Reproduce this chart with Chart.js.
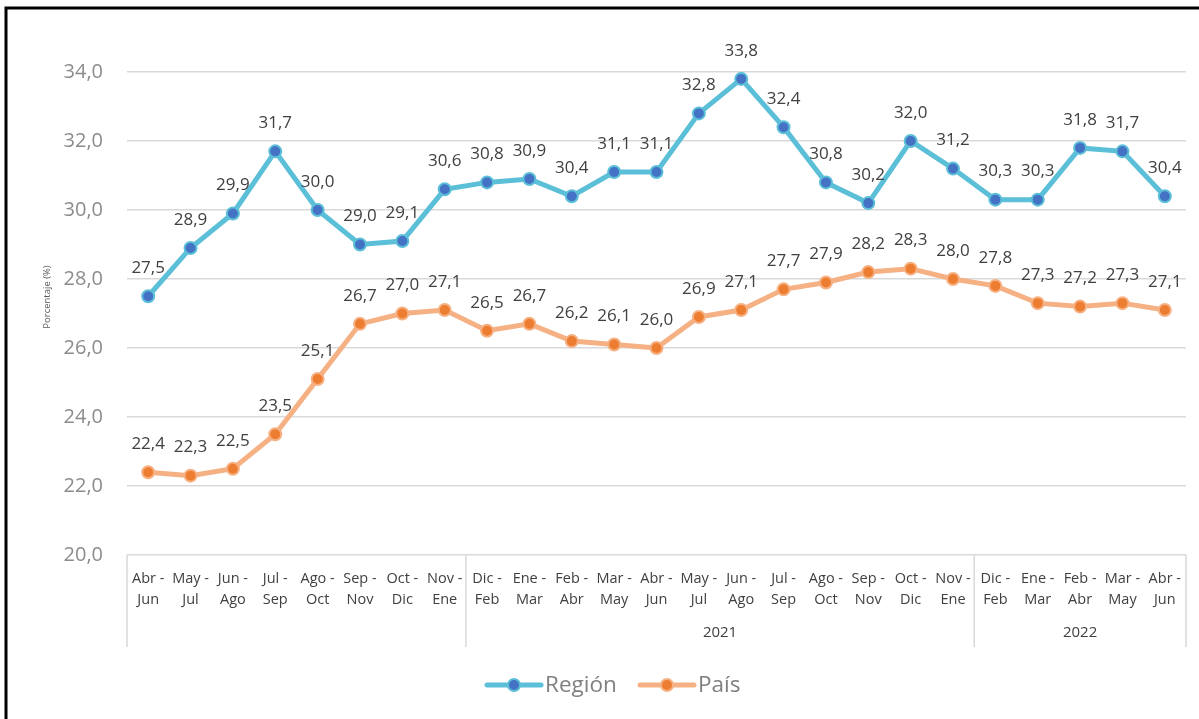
<!DOCTYPE html>
<html lang="es">
<head>
<meta charset="UTF-8">
<title>Región vs País</title>
<script src="https://cdn.jsdelivr.net/npm/chart.js"></script>
<style>
    html, body { margin: 0; padding: 0; background: #fff; overflow: hidden; }
    #grafico { display: block; }
</style>
</head>
<body>
<canvas id="grafico" width="1199" height="719"></canvas>
<script>
    // datos
    const periodos = [
        ['Abr -', 'Jun'], ['May -', 'Jul'], ['Jun -', 'Ago'], ['Jul -', 'Sep'], ['Ago -', 'Oct'],
        ['Sep -', 'Nov'], ['Oct -', 'Dic'], ['Nov -', 'Ene'], ['Dic -', 'Feb'], ['Ene -', 'Mar'],
        ['Feb -', 'Abr'], ['Mar -', 'May'], ['Abr -', 'Jun'], ['May -', 'Jul'], ['Jun -', 'Ago'],
        ['Jul -', 'Sep'], ['Ago -', 'Oct'], ['Sep -', 'Nov'], ['Oct -', 'Dic'], ['Nov -', 'Ene'],
        ['Dic -', 'Feb'], ['Ene -', 'Mar'], ['Feb -', 'Abr'], ['Mar -', 'May'], ['Abr -', 'Jun']
    ];
    const region = [27.5, 28.9, 29.9, 31.7, 30.0, 29.0, 29.1, 30.6, 30.8, 30.9, 30.4, 31.1, 31.1,
        32.8, 33.8, 32.4, 30.8, 30.2, 32.0, 31.2, 30.3, 30.3, 31.8, 31.7, 30.4];
    const pais = [22.4, 22.3, 22.5, 23.5, 25.1, 26.7, 27.0, 27.1, 26.5, 26.7, 26.2, 26.1, 26.0,
        26.9, 27.1, 27.7, 27.9, 28.2, 28.3, 28.0, 27.8, 27.3, 27.2, 27.3, 27.1];
    // grupos de años: [primer índice, último índice, etiqueta]
    const anios = [[0, 7, ''], [8, 19, '2021'], [20, 24, '2022']];

    const FUENTE = "'Open Sans', sans-serif";
    const colRegionLinea = '#5bbfd8', colRegionPunto = '#4472c4';
    const colPaisLinea = '#f5b183', colPaisPunto = '#ed7d31';

    function fmt(v) {
        return v.toFixed(1).replace('.', ',');
    }

    const extras = {
        id: 'extras',
        afterDraw(chart) {
            const ctx = chart.ctx;
            const x = chart.scales.x;
            const area = chart.chartArea;
            const paso = (x.getPixelForValue(1) - x.getPixelForValue(0));
            ctx.save();

            // líneas de grupo y años
            ctx.strokeStyle = '#d9d9d9';
            ctx.lineWidth = 1.5;
            const bordes = [x.getPixelForValue(0) - paso / 2];
            anios.forEach(g => bordes.push(x.getPixelForValue(g[1]) + paso / 2));
            bordes.forEach(px => {
                ctx.beginPath();
                ctx.moveTo(px, area.bottom);
                ctx.lineTo(px, area.bottom + 92);
                ctx.stroke();
            });
            ctx.fillStyle = '#404040';
            ctx.font = '15px ' + FUENTE;
            ctx.textAlign = 'center';
            ctx.textBaseline = 'middle';
            anios.forEach(g => {
                const cx = (x.getPixelForValue(g[0]) + x.getPixelForValue(g[1])) / 2;
                ctx.fillText(g[2], cx, area.bottom + 78);
            });

            // etiquetas de datos
            ctx.fillStyle = '#404040';
            ctx.font = '17px ' + FUENTE;
            chart.data.datasets.forEach((ds, i) => {
                const meta = chart.getDatasetMeta(i);
                meta.data.forEach((p, j) => {
                    ctx.fillText(fmt(ds.data[j]), p.x, p.y - 28);
                });
            });

            // título eje Y
            ctx.save();
            ctx.translate(47, 297);
            ctx.rotate(-Math.PI / 2);
            ctx.fillStyle = '#595959';
            ctx.font = '9.5px ' + FUENTE;
            ctx.fillText('Porcentaje (%)', 0, 0);
            ctx.restore();

            // leyenda
            const items = [
                { t: 'Región', l: colRegionLinea, p: colRegionPunto, x0: 487 },
                { t: 'País', l: colPaisLinea, p: colPaisPunto, x0: 640 }
            ];
            const ly = 685;
            items.forEach(it => {
                ctx.strokeStyle = it.l;
                ctx.lineWidth = 5;
                ctx.lineCap = 'round';
                ctx.beginPath();
                ctx.moveTo(it.x0, ly);
                ctx.lineTo(it.x0 + 54, ly);
                ctx.stroke();
                ctx.beginPath();
                ctx.arc(it.x0 + 27, ly, 6, 0, Math.PI * 2);
                ctx.fillStyle = it.p;
                ctx.fill();
                ctx.lineWidth = 2;
                ctx.stroke();
                ctx.fillStyle = '#808080';
                ctx.font = '22.5px ' + FUENTE;
                ctx.textAlign = 'left';
                ctx.fillText(it.t, it.x0 + 58, ly + 1);
            });

            // marco
            ctx.strokeStyle = '#000';
            ctx.lineWidth = 3;
            ctx.lineCap = 'butt';
            ctx.beginPath();
            ctx.moveTo(1199, 8);
            ctx.lineTo(6, 8);
            ctx.lineTo(6, 719);
            ctx.stroke();
            ctx.restore();
        }
    };

    new Chart(document.getElementById('grafico'), {
        type: 'line',
        data: {
            labels: periodos,
            datasets: [
                {
                    label: 'Región',
                    data: region,
                    borderColor: colRegionLinea,
                    borderWidth: 5,
                    pointRadius: 6,
                    pointBorderWidth: 2,
                    pointBackgroundColor: colRegionPunto,
                    pointBorderColor: colRegionLinea,
                    tension: 0
                },
                {
                    label: 'País',
                    data: pais,
                    borderColor: colPaisLinea,
                    borderWidth: 5,
                    pointRadius: 6,
                    pointBorderWidth: 2,
                    pointBackgroundColor: colPaisPunto,
                    pointBorderColor: colPaisLinea,
                    tension: 0
                }
            ]
        },
        options: {
            responsive: false,
            maintainAspectRatio: false,
            animation: false,
            devicePixelRatio: 1,
            events: [],
            layout: { padding: { left: 0, right: 13, top: 72, bottom: 0 } },
            plugins: {
                legend: { display: false },
                tooltip: { enabled: false }
            },
            scales: {
                x: {
                    offset: true,
                    grid: { display: false, drawTicks: false },
                    border: { display: false },
                    ticks: {
                        color: '#404040',
                        font: { family: FUENTE, size: 14.5, lineHeight: 1.48 },
                        padding: 13,
                        maxRotation: 0,
                        autoSkip: false
                    },
                    afterFit(s) { s.height = 164; }
                },
                y: {
                    min: 20,
                    max: 34,
                    grid: { color: '#d9d9d9', lineWidth: 1.5, drawTicks: false },
                    border: { display: false },
                    ticks: {
                        stepSize: 2,
                        color: '#8c8c8c',
                        padding: 24,
                        font: { family: FUENTE, size: 20 },
                        callback: v => fmt(v)
                    },
                    afterFit(s) { s.width = 127; }
                }
            }
        },
        plugins: [extras]
    });
</script>
</body>
</html>
